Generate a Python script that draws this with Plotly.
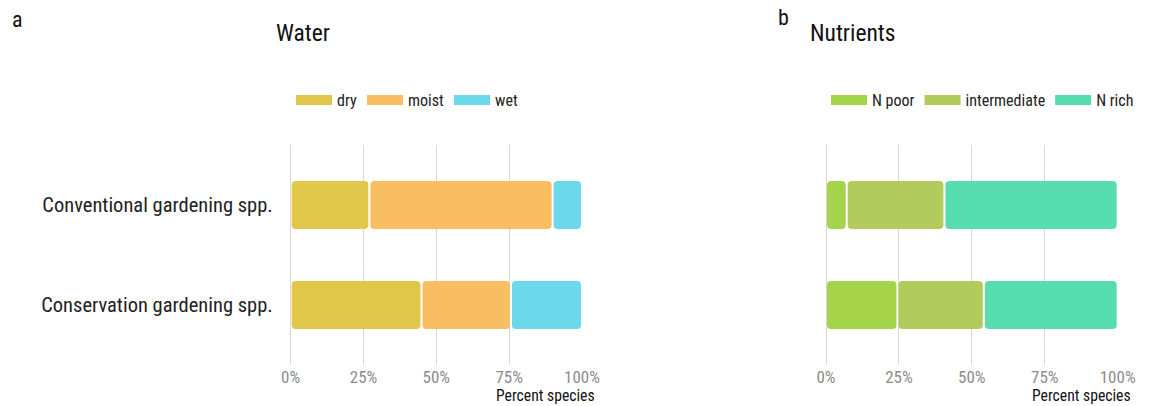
import plotly.graph_objects as go

categories = ["Conventional gardening spp.", "Conservation gardening spp."]

water_names = ["dry", "moist", "wet"]
water_dry = [27.0, 44.9]
water_moist = [62.9, 30.7]
water_wet = [10.1, 24.4]

nut_names = ["N poor", "intermediate", "N rich"]
nut_poor = [7.1, 24.5]
nut_inter = [33.5, 29.6]
nut_rich = [59.4, 45.9]

tick_vals = [0, 25, 50, 75, 100]
tick_text = ["0%", "25%", "50%", "75%", "100%"]

water_colors = ["#E0C74A", "#F9BD62", "#6BD8EC"]
nut_colors = ["#A5D349", "#B3CB5D", "#58DDB0"]

FONT = "Roboto Condensed, Liberation Sans Narrow, DejaVu Sans Condensed, sans-serif"
W, H = 1153, 406

fig = go.Figure()

GAP = 0.35   # half white gap between segments, in percent units
BAR_W = 0.48
RAD = 4


def add_panel(series, names, colors, xa, ya, legend):
    cum = [0.0] * len(categories)
    for vals, name, col in zip(series, names, colors):
        fig.add_trace(go.Bar(
            y=categories, x=[v - 2 * GAP for v in vals], base=[c + GAP for c in cum],
            orientation="h",
            marker=dict(color=col, line=dict(width=0), cornerradius=RAD),
            width=BAR_W, xaxis=xa, yaxis=ya, showlegend=False, name=name,
            customdata=vals, hovertemplate=name + ": %{customdata:.1f}%<extra></extra>"))
        # legend entry (wide swatch)
        fig.add_trace(go.Scatter(
            x=[None], y=[None], mode="lines", name=name,
            line=dict(color=col, width=16), xaxis=xa, yaxis=ya,
            legend=legend, showlegend=True, hoverinfo="skip"))
        cum = [c + v for c, v in zip(cum, vals)]


add_panel([water_dry, water_moist, water_wet], water_names, water_colors, "x", "y", "legend")
add_panel([nut_poor, nut_inter, nut_rich], nut_names, nut_colors, "x2", "y2", "legend2")

ydom = [1 - 365 / H, 1 - 145 / H]
xcommon = dict(range=[0, 100], tickvals=tick_vals, ticktext=tick_text,
               showgrid=True, gridcolor="#D6D6D6", gridwidth=1,
               zeroline=True, zerolinecolor="#D6D6D6", zerolinewidth=1,
               showline=False, ticks="", fixedrange=True, automargin=False,
               tickfont=dict(family=FONT, size=17, color="#8C8C8C"))
ycommon = dict(type="category", categoryorder="array",
               categoryarray=categories[::-1], range=[-0.6, 1.6],
               showgrid=False, zeroline=False, showline=False, ticks="",
               domain=ydom, fixedrange=True, automargin=False)

legend_common = dict(orientation="h", yanchor="middle", y=1 - 100 / H,
                     font=dict(family=FONT, size=16, color="#222222"),
                     bgcolor="rgba(0,0,0,0)", borderwidth=0, itemwidth=36,
                     itemclick=False, itemdoubleclick=False)

fig.update_layout(
    width=W, height=H, autosize=False,
    margin=dict(l=0, r=0, t=0, b=0, autoexpand=False),
    paper_bgcolor="white", plot_bgcolor="white",
    barmode="overlay",
    font=dict(family=FONT, color="#222222"),
    xaxis=dict(domain=[290.7 / W, 582 / W], anchor="y", **xcommon),
    yaxis=dict(anchor="x", tickfont=dict(family=FONT, size=20.5, color="#222222"),
               ticklabelstandoff=17, **ycommon),
    xaxis2=dict(domain=[826 / W, 1117.7 / W], anchor="y2", **xcommon),
    yaxis2=dict(anchor="x2", showticklabels=False, **ycommon),
    legend=dict(x=291 / W, xanchor="left", **legend_common),
    legend2=dict(x=826 / W, xanchor="left", **legend_common),
    annotations=[
        dict(text="a", x=10 / W, y=1 - 19 / H, xref="paper", yref="paper", xanchor="left",
             yanchor="middle", showarrow=False, font=dict(family=FONT, size=22, color="#111111")),
        dict(text="b", x=776 / W, y=1 - 17 / H, xref="paper", yref="paper", xanchor="left",
             yanchor="middle", showarrow=False, font=dict(family=FONT, size=22, color="#111111")),
        dict(text="Water", x=274 / W, y=1 - 33 / H, xref="paper", yref="paper", xanchor="left",
             yanchor="middle", showarrow=False, font=dict(family=FONT, size=23.5, color="#111111")),
        dict(text="Nutrients", x=808 / W, y=1 - 33 / H, xref="paper", yref="paper", xanchor="left",
             yanchor="middle", showarrow=False, font=dict(family=FONT, size=23.5, color="#111111")),
        dict(text="Percent species", x=597 / W, y=1 - 395 / H, xref="paper", yref="paper",
             xanchor="right", yanchor="middle", showarrow=False,
             font=dict(family=FONT, size=15.7, color="#111111")),
        dict(text="Percent species", x=1133 / W, y=1 - 395 / H, xref="paper", yref="paper",
             xanchor="right", yanchor="middle", showarrow=False,
             font=dict(family=FONT, size=15.7, color="#111111")),
    ],
)

fig.write_html("out.html")
